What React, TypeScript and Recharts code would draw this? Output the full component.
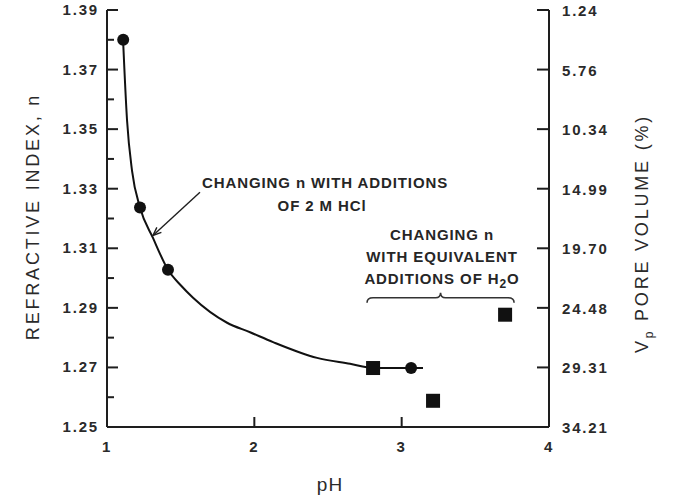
import React from 'react';
import { ComposedChart, Line, Scatter, XAxis, YAxis, ReferenceDot, ReferenceLine } from 'recharts';

// fitted curve through the HCl points
const fitPh = [1.109, 1.136, 1.17, 1.224, 1.312, 1.414, 1.502, 1.584, 1.815, 1.971, 2.127, 2.426, 2.65, 2.806, 3.064, 3.145];
const fitN = [1.38, 1.353, 1.336, 1.3237, 1.3135, 1.3028, 1.2975, 1.2934, 1.285, 1.2818, 1.2785, 1.2732, 1.2712, 1.2698, 1.2698, 1.2698];

// additions of 2 M HCl (circles)
const hclPh = [1.11, 1.224, 1.414, 3.064];
const hclN = [1.38, 1.3237, 1.3028, 1.2698];

// equivalent additions of H2O (squares)
const waterPh = [2.806, 3.213, 3.702];
const waterN = [1.2698, 1.2588, 1.2877];

const phTicks = [1, 2, 3, 4];
const nTicks = [1.25, 1.26, 1.27, 1.28, 1.29, 1.3, 1.31, 1.32, 1.33, 1.34, 1.35, 1.36, 1.37, 1.38, 1.39];
const nMajor = [1.25, 1.27, 1.29, 1.31, 1.33, 1.35, 1.37, 1.39];
const poreLabels = ['34.21', '29.31', '24.48', '19.70', '14.99', '10.34', '5.76', '1.24'];

const fitData = fitPh.map((ph, i) => ({ ph, n: fitN[i] }));
const hclData = hclPh.map((ph, i) => ({ ph, n: hclN[i] }));
const waterData = waterPh.map((ph, i) => ({ ph, n: waterN[i] }));

const FONT = '"Liberation Sans", Arial, Helvetica, sans-serif';
const INK = '#1e1e1e';

const tickText = { fontFamily: FONT, fontSize: 15, fontWeight: 700, fill: '#2a2a2a', letterSpacing: 1.8 };
const noteText = { fontFamily: FONT, fontSize: 15, fontWeight: 700, fill: '#262626', letterSpacing: 0.9 };

function LeftTick({ x, y, payload }: any) {
  const v = payload.value;
  const major = Math.round(v * 100) % 2 === 1;
  return (
    <g>
      <line x1={x} y1={y} x2={x + (major ? 11 : 7)} y2={y} stroke={INK} strokeWidth={2} />
      {major && (
        <text x={x - 8} y={y} dy={5} textAnchor="end" {...tickText}>
          {v.toFixed(2)}
        </text>
      )}
    </g>
  );
}

function RightTick({ x, y, payload }: any) {
  const idx = nMajor.findIndex((t) => Math.abs(t - payload.value) < 1e-6);
  return (
    <g>
      <line x1={x} y1={y} x2={x - 12} y2={y} stroke={INK} strokeWidth={2} />
      <text x={x + 13} y={y} dy={6} textAnchor="start" {...tickText}>
        {poreLabels[idx]}
      </text>
    </g>
  );
}

function BottomTick({ x, y, payload }: any) {
  return (
    <g>
      <line x1={x} y1={y} x2={x} y2={y - 10} stroke={INK} strokeWidth={2} />
      <text x={x} y={y + 25} textAnchor="middle" {...tickText}>
        {payload.value}
      </text>
    </g>
  );
}

const noteLine = (text: React.ReactNode) => (p: any) => (
  <text x={p.cx} y={p.cy} textAnchor="middle" {...noteText}>
    {text}
  </text>
);

function Arrow(p: any) {
  const { x1, y1, x2, y2 } = p;
  const a = Math.atan2(y2 - y1, x2 - x1);
  const len = 9;
  const w = 0.38;
  return (
    <g>
      <line x1={x1} y1={y1} x2={x2} y2={y2} stroke={INK} strokeWidth={1.4} />
      <polyline
        points={`${x2 - len * Math.cos(a - w)},${y2 - len * Math.sin(a - w)} ${x2},${y2} ${x2 - len * Math.cos(a + w)},${y2 - len * Math.sin(a + w)}`}
        fill="none"
        stroke={INK}
        strokeWidth={1.4}
      />
    </g>
  );
}

function Brace(p: any) {
  const { x1, x2, y1 } = p;
  const xm = (x1 + x2) / 2;
  const y = y1;
  const d = `M${x1},${y + 5} Q${x1},${y} ${x1 + 6},${y} L${xm - 5},${y} Q${xm},${y} ${xm},${y - 5} Q${xm},${y} ${xm + 5},${y} L${x2 - 6},${y} Q${x2},${y} ${x2},${y + 5}`;
  return <path d={d} fill="none" stroke="#333" strokeWidth={1.6} />;
}

export default function App() {
  return (
    <div style={{ position: 'absolute', left: 0, top: 0 }}>
      <ComposedChart width={685} height={502} margin={{ top: 10, right: 0, bottom: 0, left: 0 }}>
        <XAxis
          dataKey="ph"
          type="number"
          domain={[1, 4]}
          ticks={phTicks}
          interval={0}
          height={75}
          tickSize={0}
          tickMargin={0}
          tickLine={false}
          axisLine={{ stroke: INK, strokeWidth: 2 }}
          tick={<BottomTick />}
          label={{
            content: ({ viewBox }: any) => (
              <text
                x={viewBox.x + viewBox.width / 2 + 2}
                y={viewBox.y + 64}
                textAnchor="middle"
                fontFamily={FONT}
                fontSize={19}
                fill="#2a2a2a"
                letterSpacing={1}
              >
                pH
              </text>
            ),
          }}
        />
        <XAxis xAxisId="top" orientation="top" type="number" domain={[1, 4]} height={0} tick={false} tickLine={false} axisLine={{ stroke: INK, strokeWidth: 2 }} />
        <YAxis
          dataKey="n"
          type="number"
          domain={[1.25, 1.39]}
          ticks={nTicks}
          interval={0}
          width={107}
          tickSize={0}
          tickMargin={0}
          tickLine={false}
          axisLine={{ stroke: INK, strokeWidth: 2 }}
          tick={<LeftTick />}
          label={{
            content: ({ viewBox }: any) => {
              const cx = viewBox.x + 39;
              const cy = viewBox.y + viewBox.height / 2 - 2;
              return (
                <text
                  x={cx}
                  y={cy}
                  transform={`rotate(-90 ${cx} ${cy})`}
                  textAnchor="middle"
                  fontFamily={FONT}
                  fontSize={18}
                  fill="#2a2a2a"
                  letterSpacing={2.8}
                >
                  REFRACTIVE INDEX, n
                </text>
              );
            },
          }}
        />
        <YAxis
          yAxisId="right"
          dataKey="n"
          orientation="right"
          type="number"
          domain={[1.25, 1.39]}
          ticks={nMajor}
          interval={0}
          width={136}
          tickSize={0}
          tickMargin={0}
          tickLine={false}
          axisLine={{ stroke: INK, strokeWidth: 2 }}
          tick={<RightTick />}
          label={{
            content: ({ viewBox }: any) => {
              const cx = viewBox.x + 99;
              const cy = viewBox.y + viewBox.height / 2 + 15;
              return (
                <text
                  x={cx}
                  y={cy}
                  transform={`rotate(-90 ${cx} ${cy})`}
                  textAnchor="middle"
                  fontFamily={FONT}
                  fontSize={18}
                  fill="#2a2a2a"
                  letterSpacing={2.8}
                >
                  V
                  <tspan fontSize={12} dy={5}>
                    p
                  </tspan>
                  <tspan dy={-5}>{'  PORE VOLUME (%)'}</tspan>
                </text>
              );
            },
          }}
        />

        <Line
          data={fitData}
          dataKey="n"
          type="monotone"
          stroke="#111"
          strokeWidth={2}
          dot={false}
          activeDot={false}
          isAnimationActive={false}
        />
        <Scatter
          data={hclData}
          dataKey="n"
          fill="#111"
          isAnimationActive={false}
          shape={(p: any) => <circle cx={p.cx} cy={p.cy} r={6} fill="#111" />}
        />
        <Scatter
          yAxisId="right"
          data={waterData}
          dataKey="n"
          fill="#111"
          isAnimationActive={false}
          shape={(p: any) => <rect x={p.cx - 7} y={p.cy - 7} width={14} height={14} fill="#111" />}
        />

        <ReferenceLine segment={[{ x: 1.631, y: 1.3288 }, { x: 1.312, y: 1.3143 }]} shape={<Arrow />} />
        <ReferenceLine segment={[{ x: 2.765, y: 1.2934 }, { x: 3.763, y: 1.2934 }]} shape={<Brace />} />

        <ReferenceDot x={2.48} y={1.3301} r={0} shape={noteLine('CHANGING n WITH ADDITIONS')} />
        <ReferenceDot x={2.46} y={1.3224} r={0} shape={noteLine('OF 2 M HCl')} />
        <ReferenceDot x={3.274} y={1.3129} r={0} shape={noteLine('CHANGING n')} />
        <ReferenceDot x={3.274} y={1.3055} r={0} shape={noteLine('WITH EQUIVALENT')} />
        <ReferenceDot
          x={3.274}
          y={1.2981}
          r={0}
          shape={noteLine(
            <>
              ADDITIONS OF H
              <tspan fontSize={12} dy={4}>
                2
              </tspan>
              <tspan dy={-4}>O</tspan>
            </>
          )}
        />
      </ComposedChart>
    </div>
  );
}
